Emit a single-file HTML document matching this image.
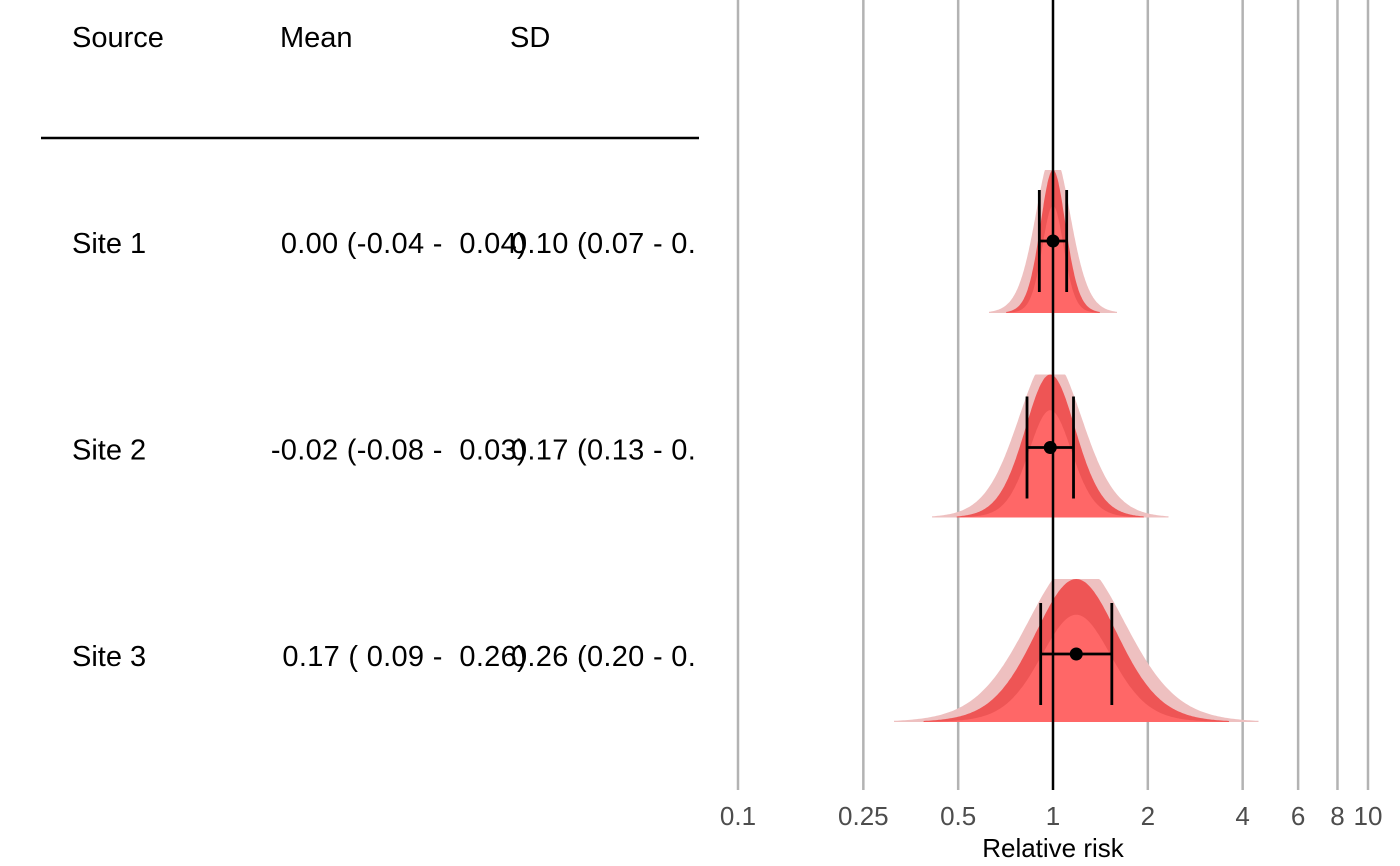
<!DOCTYPE html>
<html><head><meta charset="utf-8"><style>
body{margin:0;background:#fff;}
svg{display:block;font-family:"Liberation Sans",Arial,sans-serif;}
</style></head><body>
<svg id="chart" width="1400" height="866" viewBox="0 0 1400 866">
  <g id="table">
    <text x="72" y="47" font-size="29">Source</text>
    <text x="280" y="47" font-size="29">Mean</text>
    <text x="510" y="47" font-size="29">SD</text>
    <line x1="41" x2="699" y1="138" y2="138" stroke="#000" stroke-width="2.5"/>
  </g>
  <g id="grid"></g>
  <g id="dens"></g>
  <line id="refline" y1="0" y2="790" stroke="#000" stroke-width="2.5"/>
  <g id="bars"></g>
  <g id="axis"></g>
  <text x="1053" y="857" font-size="26" text-anchor="middle">Relative risk</text>
</svg>
<script>
const sites = ["Site 1","Site 2","Site 3"];
const means = [0.00,-0.02,0.17];
const sds = [0.10,0.17,0.26];
const meanLabels = ["0.00 (-0.04 -  0.04)","-0.02 (-0.08 -  0.03)","0.17 ( 0.09 -  0.26)"];
const sdLabels = ["0.10 (0.07 - 0.","0.17 (0.13 - 0.","0.26 (0.20 - 0."];
const darkSigma = [0.095,0.19,0.31];
const pinkSigma = [0.13,0.24,0.37];
const ticks = [0.1,0.25,0.5,1,2,4,6,8,10];
const tickLabels = ["0.1","0.25","0.5","1","2","4","6","8","10"];

const NS="http://www.w3.org/2000/svg";
const X = v => 1053 + 315*Math.log10(v);
const XL = l => X(Math.exp(l));
const rowBase = i => 313 + i*204.5;
const rowMid = i => 243 + i*206.5;
const H = 143;
function mk(tag, attrs, parent){const e=document.createElementNS(NS,tag);for(const k in attrs)e.setAttribute(k,attrs[k]);parent.appendChild(e);return e;}

const grid=document.getElementById('grid'), axis=document.getElementById('axis');
ticks.forEach((t,i)=>{
  if(t!==1){
    const l=mk('line',{x1:X(t),x2:X(t),y1:0,y2:790,stroke:'#b3b3b3','stroke-width':2.5},grid);
    
    
  }
  const tx=mk('text',{x:X(t),y:825,'font-size':26,'text-anchor':'middle',fill:'#4d4d4d'},axis);
  tx.textContent=tickLabels[i];
  
  
});
document.getElementById('refline').setAttribute('x1',X(1));
document.getElementById('refline').setAttribute('x2',X(1));

const table=document.getElementById('table');
const dens=document.getElementById('dens'), bars=document.getElementById('bars');
function tdens(z){const nu=14;return Math.pow(1+z*z/nu,-(nu+1)/2);}
function shape(m,s,h,cap,base,r){
  let d='M'+XL(m-r*s)+','+base;
  for(let k=0;k<=240;k++){const l=m-r*s+2*r*s*k/240;let y=h*tdens((l-m)/s);if(y>cap)y=cap;d+=' L'+XL(l).toFixed(1)+','+(base-y).toFixed(1);}
  return d+' L'+XL(m+r*s)+','+base+' Z';
}
sites.forEach((s,i)=>{
  const y=rowMid(i)+10;
  const a=mk('text',{x:72,y:y,'font-size':29},table);a.textContent=s;
  
  
  const b=mk('text',{x:527,y:y,'font-size':29,'letter-spacing':'0.3','text-anchor':'end',style:'white-space:pre'},table);b.textContent=meanLabels[i];
  
  
  const c=mk('text',{x:511,y:y,'font-size':29,'letter-spacing':'0.3','clip-path':'url(#clipT)'},table);c.textContent=sdLabels[i];
  
  

  const base=rowBase(i), m=means[i];
  const p=mk('path',{d:shape(m,pinkSigma[i],H*1.12,H,base,3.6),fill:'#eec0c0'},dens);
  
  
  const dk=mk('path',{d:shape(m,darkSigma[i],H,H,base,3.6),fill:'#ee5555'},dens);
  
  
  const br=mk('path',{d:shape(m,darkSigma[i]*0.85,H*0.75,H,base,4.2),fill:'#ff6767'},dens);
  
  

  const lo=XL(m-sds[i]), hi=XL(m+sds[i]), cy=rowMid(i)-2;
  const g=mk('g',{stroke:'#000','stroke-width':2.8},bars);
  
  
  mk('line',{x1:lo,x2:hi,y1:cy,y2:cy},g);
  mk('line',{x1:lo,x2:lo,y1:cy-51,y2:cy+51},g);
  mk('line',{x1:hi,x2:hi,y1:cy-51,y2:cy+51},g);
  const pt=mk('circle',{cx:XL(m),cy:cy,r:6.5,fill:'#000',stroke:'none'},bars);
  
  
});
const defs=mk('defs',{},document.getElementById('chart'));
const cp=mk('clipPath',{id:'clipT'},defs);
mk('rect',{x:0,y:0,width:699,height:866},cp);
</script>
</body></html>
